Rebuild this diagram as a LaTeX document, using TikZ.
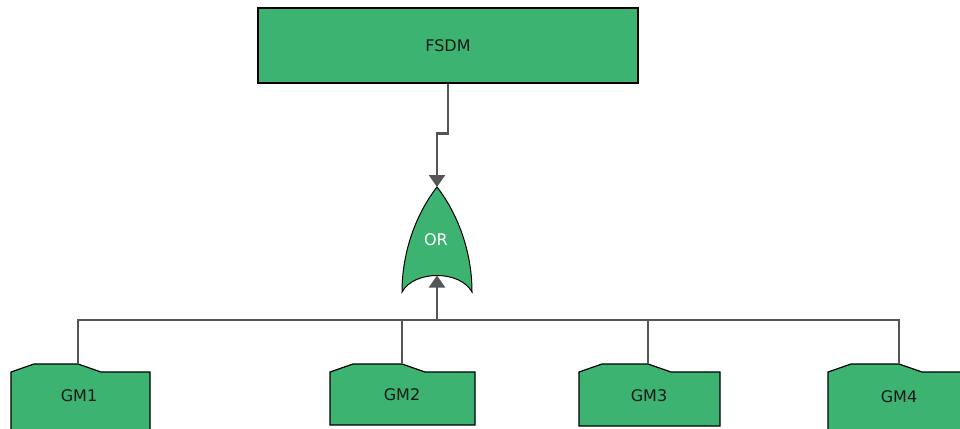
\documentclass[tikz,border=0pt]{standalone}
\usepackage{fontspec}
\setmainfont{DejaVu Sans}
\usetikzlibrary{arrows.meta}
\definecolor{boxgreen}{HTML}{3CB371}
\definecolor{wire}{HTML}{555555}
\tikzset{
  shapefill/.style={fill=boxgreen, draw=black, line width=1.2pt, line join=miter},
  conn/.style={draw=wire, line width=2.4pt},
  tip/.style={-{Triangle[width=16pt,length=12pt]}},
  label/.style={inner sep=0pt, font=\fontsize{16}{19}\selectfont, text=black!90},
}
\begin{document}
\begin{tikzpicture}[x=1pt, y=-1pt]
\useasboundingbox (0,0) rectangle (960,428);

% top event
\node[shapefill, label, minimum width=380pt, minimum height=75pt] (fsdm) at (448,45.5) {FSDM};

% OR gate
\coordinate (ortip) at (437,187);
\coordinate (orbase) at (437,275.5);
\draw[shapefill, line width=1pt] (ortip) .. controls (416,214) and (402,252) .. (402,292)
  .. controls (414,270) and (460,270) .. (472,292)
  .. controls (472,252) and (458,214) .. (ortip) -- cycle;
\node[label, text=white] (orgate) at (436,240) {OR};

% basic events with tabbed tops
\newcommand\tabbox[4]{% left, connector x, right, bottom
  \draw[shapefill] (#1,372) -- (#1+23,364) -- (#2,364) -- (#2+23,372) -- (#3,372)
    -- (#3,#4) -- (#1,#4) -- cycle;}
\tabbox{11}{78}{150}{440}
\tabbox{330}{402}{475}{425}
\tabbox{579}{648}{720}{426}
\tabbox{828}{899}{975}{440}

\coordinate (gm1top) at (78,364);
\coordinate (gm2top) at (402,364);
\coordinate (gm3top) at (648,364);
\coordinate (gm4top) at (899,364);
\coordinate (bus) at (437,320);

\node[label] (gm1) at (79,396) {GM1};
\node[label] (gm2) at (402,395) {GM2};
\node[label] (gm3) at (649,396) {GM3};
\node[label] (gm4) at (899,397) {GM4};

% connectors
\draw[conn, tip] (fsdm.south) -- ++(0,50) -| (ortip);
\draw[conn] (gm1top) -- (gm1top |- bus) -- (gm4top |- bus) -- (gm4top);
\draw[conn] (gm2top) -- (gm2top |- bus);
\draw[conn] (gm3top) -- (gm3top |- bus);
\draw[conn, tip] (bus) -- (orbase);
\end{tikzpicture}
\end{document}
